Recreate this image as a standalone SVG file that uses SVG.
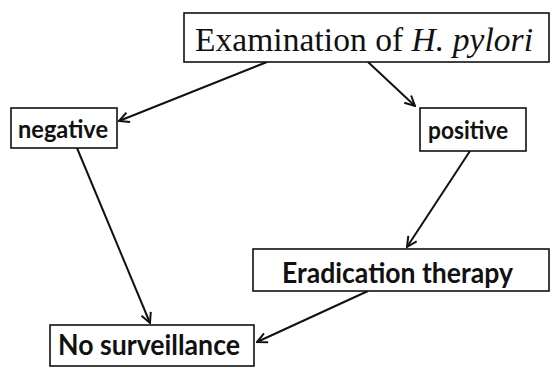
<svg xmlns="http://www.w3.org/2000/svg" width="552" height="368" viewBox="0 0 552 368">
<defs>
<style>
.box{fill:#fff;stroke:#111;stroke-width:1.6}
.lbl{font-family:Lato,"Open Sans",sans-serif;font-weight:bold;fill:#111}
.ser{font-family:"Liberation Serif","Times New Roman",serif;fill:#111;font-size:33.5px}
.conn{stroke:#111;stroke-width:2;fill:none}
</style>
<marker id="arr" viewBox="0 0 12 12" refX="11" refY="6" markerWidth="12" markerHeight="12" markerUnits="userSpaceOnUse" orient="auto">
<path d="M1,1 L11,6 L1,11" fill="none" stroke="#111" stroke-width="2"/>
</marker>
</defs>
<rect width="552" height="368" fill="#fff"/>
<g id="connectors">
<line class="conn" x1="267" y1="62" x2="119" y2="121" marker-end="url(#arr)"/>
<line class="conn" x1="368" y1="62" x2="415" y2="106" marker-end="url(#arr)"/>
<line class="conn" x1="77" y1="148" x2="150" y2="323" marker-end="url(#arr)"/>
<line class="conn" x1="470" y1="151" x2="407" y2="247" marker-end="url(#arr)"/>
<line class="conn" x1="368" y1="291" x2="257" y2="342" marker-end="url(#arr)"/>
</g>
<g id="examination">
<rect class="box" x="184" y="13" width="365" height="49"/>
<text class="ser" x="195" y="51" textLength="338" lengthAdjust="spacing">Examination of <tspan font-style="italic">H. pylori</tspan></text>
</g>
<g id="negative">
<rect class="box" x="11" y="108" width="106" height="40"/>
<text class="lbl" x="18" y="138" font-size="25" textLength="90" lengthAdjust="spacingAndGlyphs">negative</text>
</g>
<g id="positive">
<rect class="box" x="420" y="108" width="106" height="43"/>
<text class="lbl" x="428" y="139" font-size="25" textLength="80" lengthAdjust="spacingAndGlyphs">positive</text>
</g>
<g id="eradication">
<rect class="box" x="253" y="249" width="296" height="42"/>
<text class="lbl" x="282" y="283" font-size="28" textLength="231" lengthAdjust="spacingAndGlyphs">Eradication therapy</text>
</g>
<g id="no-surveillance">
<rect class="box" x="50" y="325" width="204" height="41"/>
<text class="lbl" x="58" y="355" font-size="28.5" textLength="182" lengthAdjust="spacingAndGlyphs">No surveillance</text>
</g>
</svg>
